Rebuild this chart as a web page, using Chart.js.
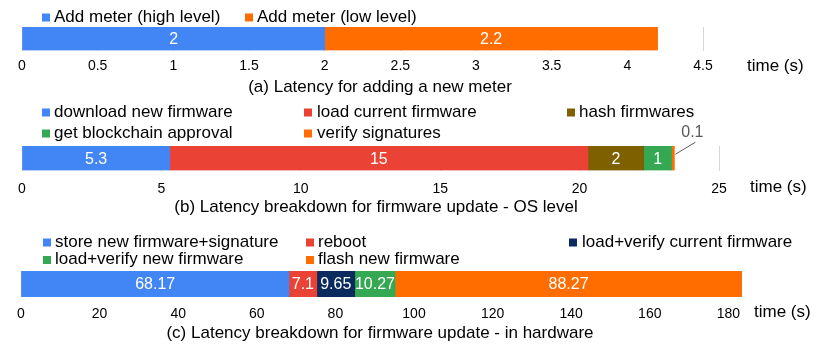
<!DOCTYPE html>
<html>
<head>
<meta charset="utf-8">
<script src="https://cdn.jsdelivr.net/npm/chart.js@4.4.0/dist/chart.umd.min.js"></script>
<style>
  body { margin: 0; background: #fff; }
  canvas { position: absolute; left: 0; }
</style>
</head>
<body>
<canvas id="chartA" width="830" height="100" style="top:0px"></canvas>
<canvas id="chartB" width="830" height="120" style="top:100px"></canvas>
<canvas id="chartC" width="830" height="127" style="top:220px"></canvas>
<script>
// (a) adding a new meter
const meterLabels = ['Add meter (high level)', 'Add meter (low level)'];
const meterValues = [2, 2.2];
const meterColors = ['#4285f4', '#ff6d01'];

// (b) firmware update, OS level
const osLabels = ['download new firmware', 'load current firmware', 'hash firmwares',
    'get blockchain approval', 'verify signatures'];
const osValues = [5.3, 15, 2, 1, 0.1];
const osColors = ['#4285f4', '#ea4335', '#7f6000', '#34a853', '#ff6d01'];

// (c) firmware update, in hardware
const hwLabels = ['store new firmware+signature', 'reboot', 'load+verify current firmware',
    'load+verify new firmware', 'flash new firmware'];
const hwValues = [68.17, 7.1, 9.65, 10.27, 88.27];
const hwColors = ['#4285f4', '#ea4335', '#0b2a5e', '#34a853', '#ff6d01'];

// x axis ranges
const meterTicks = { max: 4.5, step: 0.5 };
const osTicks = { max: 25, step: 5 };
const hwTicks = { max: 183.46, step: 20 };

const FONT = '"Liberation Sans", Arial, sans-serif';

// legend grid, value labels, axis unit and caption
const extrasPlugin = {
    id: 'extras',
    afterDraw(chart, args, opts) {
        const ctx = chart.ctx;
        ctx.save();
        ctx.textBaseline = 'middle';

        chart.data.datasets.forEach((ds, i) => {
            const col = i % opts.perRow;
            const row = Math.floor(i / opts.perRow);
            const y = opts.legendY[row];
            ctx.fillStyle = ds.backgroundColor;
            ctx.fillRect(opts.markerX[col], y - 3.5, 8, 8);
            ctx.fillStyle = '#000';
            ctx.font = '17px ' + FONT;
            ctx.textAlign = 'left';
            ctx.fillText(ds.label, opts.textX[col], y);

            // value inside the segment
            const bar = chart.getDatasetMeta(i).data[0];
            const w = bar.x - bar.base;
            const val = String(ds.data[0]);
            ctx.font = '16px ' + FONT;
            if (w > 14) {
                ctx.fillStyle = '#fff';
                ctx.textAlign = 'center';
                ctx.fillText(val, (bar.x + bar.base) / 2, bar.y + 1);
            } else {
                // too thin: leader line to a label above
                ctx.strokeStyle = '#595959';
                ctx.lineWidth = 1;
                ctx.beginPath();
                ctx.moveTo(bar.x + 1, bar.y - 4);
                ctx.lineTo(bar.x + 21, bar.y - 16);
                ctx.stroke();
                ctx.fillStyle = '#595959';
                ctx.textAlign = 'center';
                ctx.fillText(val, bar.x + 18, bar.y - 26);
            }
        });

        ctx.fillStyle = '#000';
        ctx.font = '17px ' + FONT;
        ctx.textAlign = 'left';
        ctx.fillText('time (s)', opts.unitX, opts.unitY);
        ctx.textAlign = 'center';
        ctx.fillText(opts.caption, opts.captionX, opts.captionY);
        ctx.restore();
    }
};

function makeChart(id, labels, values, colors, range, padding, tickPad, extras) {
    const datasets = labels.map((label, i) => ({
        label: label,
        data: [values[i]],
        backgroundColor: colors[i],
        borderWidth: 0
    }));

    return new Chart(document.getElementById(id), {
        type: 'bar',
        data: { labels: [''], datasets: datasets },
        options: {
            indexAxis: 'y',
            responsive: false,
            animation: false,
            layout: { padding: padding },
            datasets: { bar: { barPercentage: 1, categoryPercentage: 1 } },
            plugins: {
                legend: { display: false },
                tooltip: { enabled: false },
                extras: extras
            },
            scales: {
                x: {
                    stacked: true,
                    min: 0,
                    max: range.max,
                    grid: { color: '#d6d6d6', drawTicks: false },
                    border: { display: false },
                    ticks: {
                        stepSize: range.step,
                        includeBounds: false,
                        autoSkip: false,
                        maxRotation: 0,
                        padding: tickPad,
                        color: '#000',
                        font: { family: FONT, size: 14 },
                        callback: (value) => String(Math.round(value * 100) / 100)
                    }
                },
                y: { stacked: true, display: false }
            }
        },
        plugins: [extrasPlugin]
    });
}

makeChart('chartA', meterLabels, meterValues, meterColors, meterTicks,
    { top: 27, left: 22, right: 127, bottom: 26 }, 7, {
        perRow: 2, legendY: [17], markerX: [42, 245], textX: [54, 257],
        unitX: 747, unitY: 66,
        caption: '(a) Latency for adding a new meter', captionX: 380, captionY: 87
    });

makeChart('chartB', osLabels, osValues, osColors, osTicks,
    { top: 46, left: 22, right: 111, bottom: 25 }, 10, {
        perRow: 3, legendY: [12, 33], markerX: [42, 304, 567], textX: [54, 317, 579],
        unitX: 750, unitY: 87,
        caption: '(b) Latency breakdown for firmware update - OS level', captionX: 376, captionY: 107
    });

makeChart('chartC', hwLabels, hwValues, hwColors, hwTicks,
    { top: 51, left: 21, right: 88, bottom: 24 }, 9, {
        perRow: 3, legendY: [22, 39.5], markerX: [43, 306, 569], textX: [55, 318, 582],
        unitX: 754, unitY: 92,
        caption: '(c) Latency breakdown for firmware update - in hardware', captionX: 380, captionY: 113
    });
</script>
</body>
</html>
